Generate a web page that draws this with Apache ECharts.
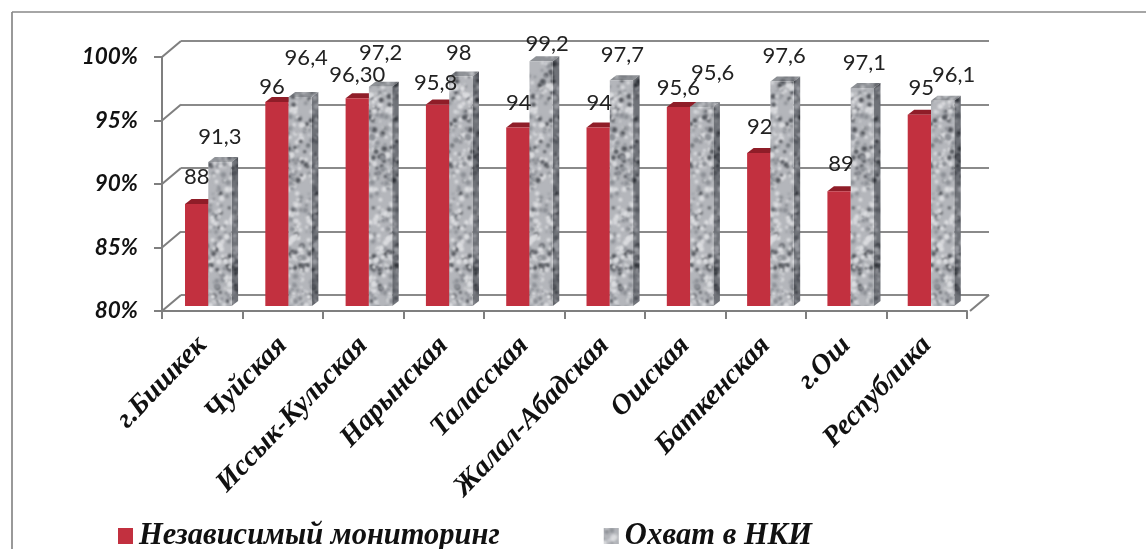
<!DOCTYPE html>
<html><head><meta charset="utf-8">
<style>html,body{margin:0;padding:0;background:#fff}#c{width:1146px;height:549px;filter:blur(0.4px)}</style>
<script src="https://cdn.jsdelivr.net/npm/echarts@6/dist/echarts.min.js"></script>
</head><body><div id="c"></div>
<script>
const categories = ['г.Бишкек','Чуйская','Иссык-Кульская','Нарынская','Таласская','Жалал-Абадская','Ошская','Баткенская','г.Ош','Республика'];
const monitoring = [88,96,96.3,95.8,94,94,95.6,92,89,95];
const coverage = [91.3,96.4,97.2,98,99.2,97.7,95.6,97.6,97.1,96.1];
const monitoringText = ['88','96','96,30','95,8','94','94','95,6','92','89','95'];
const coverageText = ['91,3','96,4','97,2','98','99,2','97,7','95,6','97,6','97,1','96,1'];
const monitoringName = 'Независимый мониторинг';
const coverageName = 'Охват в НКИ';
const wallTicks = [[0,80],[0,85],[0,90],[0,95],[0,100],[1,80]];
// hand placement of the value labels, as in the picture
const monitoringNudge = [[0,-11],[-5,1],[0,-7],[-2,-6],[1,-9],[1,-9],[0,-3],[1,-10],[2,-11],[2,-11]];
const coverageNudge = [[0,-9],[6,-23],[0,-18],[-2,-8],[6,-1],[1,-9],[11,-18],[2,-10],[2,-9],[11,-10]];

function texture(base, dark, mid, light) {
  const w = 48, h = 340, cv = document.createElement('canvas');
  cv.width = w; cv.height = h;
  const g = cv.getContext('2d');
  g.fillStyle = base; g.fillRect(0,0,w,h);
  g.filter = 'blur(1.1px)';
  let s = 12345;
  const next = () => (s = (s * 1103515245 + 12345) & 0x7fffffff) / 0x7fffffff;
  for (let k = 0; k < 760; k++) {
    const x = next()*w, y = next()*h, r = 1 + next()*1.8, t = next();
    g.fillStyle = t < 0.13 ? dark : (t < 0.5 ? mid : light);
    for (const dx of [-w,0,w]) { g.beginPath(); g.arc(x+dx,y,r,0,Math.PI*2); g.fill(); }
  }
  return {image: cv, repeat: 'repeat'};
}
const grayFront = texture('#b4b6bb','#54575d','#8d9096','#dcdde0');
const graySide = texture('#6f7278','#2f3238','#50535a','#989aa0');
const grayTop = texture('#8f9297','#62656b','#7a7d83','#bcbec2');
const redFront = '#c2303f', redTop = '#8f1d28', redSide = '#8f1d28';
const depthX = 6.5, depthY = 5, barRatio = 0.29;

function depthFaces(side, topFill, sideFill) {
  return function(p, api) {
    const i = api.value(0), t = api.coord([i, api.value(1)]), b = api.coord([i, 80]);
    const w = api.size([1,0])[0] * barRatio;
    const x0 = side < 0 ? t[0]-w : t[0], x1 = x0 + w;
    return {type:'group', children:[
      {type:'polygon', shape:{points:[[x0,t[1]],[x1,t[1]],[x1+depthX,t[1]-depthY],[x0+depthX,t[1]-depthY]]}, style:{fill:topFill}},
      {type:'polygon', shape:{points:[[x1,t[1]],[x1+depthX,t[1]-depthY],[x1+depthX,b[1]-depthY],[x1,b[1]]]}, style:{fill:sideFill}}
    ]};
  };
}
const valueFont = {fontFamily:'Lato', fontSize:22, color:'#222'};
function barData(vals, texts, nudges) {
  return vals.map((v,i) => ({value:v, label:{show:true, position:'top', distance:5, formatter:texts[i], offset:nudges[i], ...valueFont}}));
}
const lineCol = '#7f7f7f';
const chart = echarts.init(document.getElementById('c'));
chart.setOption({
  animation:false, backgroundColor:'#fff',
  graphic:[
    {type:'line', shape:{x1:12,y1:12,x2:12,y2:549}, style:{stroke:'#777',lineWidth:1.5}},
    {type:'line', shape:{x1:12,y1:12,x2:1146,y2:12}, style:{stroke:'#888',lineWidth:1.5}}
  ],
  legend:{data:[monitoringName,coverageName], left:113, top:516, itemWidth:15, itemHeight:16, itemGap:104, icon:'rect',
    textStyle:{fontFamily:'Liberation Serif', fontStyle:'italic', fontWeight:'bold', fontSize:30.5, color:'#111', padding:[0,0,0,1]}},
  grid:[
    {left:181, width:808, top:41, height:254},
    {left:162, width:805, top:57, height:254},
    {left:168.15, width:803, top:51, height:255}
  ],
  xAxis:[
    {gridIndex:0, type:'value', min:0, max:1, show:false},
    {gridIndex:1, type:'category', data:categories, axisLine:{lineStyle:{color:lineCol,width:2}}, axisTick:{show:true,length:8,lineStyle:{color:lineCol,width:2}},
      axisLabel:{interval:0, rotate:46, margin:30, fontFamily:'Liberation Serif', fontStyle:'italic', fontWeight:'bold', fontSize:28.5, color:'#111'}},
    {gridIndex:2, type:'category', data:categories, show:false}
  ],
  yAxis:[
    {gridIndex:0, type:'value', min:80, max:100, interval:5, axisLine:{show:false}, axisTick:{show:false}, axisLabel:{show:false}, splitLine:{lineStyle:{color:'#8a8a8a',width:2}}},
    {gridIndex:1, type:'value', min:80, max:100, interval:5, splitLine:{show:false}, axisLine:{show:true,lineStyle:{color:lineCol,width:2}}, axisTick:{show:true,length:8,lineStyle:{color:lineCol,width:2}},
      axisLabel:{formatter:'{value}%', margin:24, fontFamily:'Lato', fontStyle:'italic', fontWeight:'bold', fontSize:22.5, color:'#111'}},
    {gridIndex:2, type:'value', min:80, max:100, show:false}
  ],
  series:[
    {type:'custom', name:'стены', xAxisIndex:0, yAxisIndex:0, z:1, silent:true, data:wallTicks,
      renderItem:(p,api)=>{const c=api.coord([api.value(0),api.value(1)]);
        return {type:'line', shape:{x1:c[0],y1:c[1],x2:c[0]-19,y2:c[1]+16}, style:{stroke:lineCol,lineWidth:2}};}},
    {type:'custom', name:'грани1', xAxisIndex:2, yAxisIndex:2, z:2, silent:true, data:monitoring.map((v,i)=>[i,v]), renderItem:depthFaces(-1,redTop,redSide)},
    {type:'custom', name:'грани2', xAxisIndex:2, yAxisIndex:2, z:2, silent:true, data:coverage.map((v,i)=>[i,v]), renderItem:depthFaces(1,grayTop,graySide)},
    {type:'bar', name:monitoringName, xAxisIndex:2, yAxisIndex:2, z:3, barWidth:'29%', barGap:'0%', itemStyle:{color:redFront}, data:barData(monitoring,monitoringText,monitoringNudge)},
    {type:'bar', name:coverageName, xAxisIndex:2, yAxisIndex:2, z:3, barWidth:'29%', barGap:'0%', itemStyle:{color:grayFront}, data:barData(coverage,coverageText,coverageNudge)}
  ]
});
</script></body></html>
